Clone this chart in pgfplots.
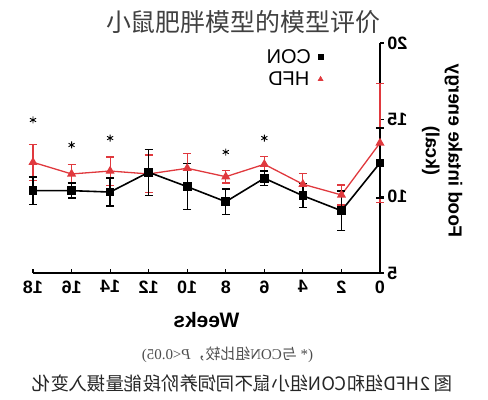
\documentclass[border=0pt]{standalone}
\usepackage{fontspec}
\usepackage{pgfplots}
\pgfplotsset{compat=1.18}
\setmainfont{Liberation Sans}
\newfontfamily\cjk{Noto Sans CJK SC}
\newfontfamily\serif{Liberation Serif}
\definecolor{hfdred}{HTML}{E0393E}
\begin{document}
\begin{tikzpicture}
\begin{axis}[
    scale only axis,
    width=347bp, height=230bp,
    at={(0,0)}, anchor=south west,
    x dir=reverse,
    xmin=0, xmax=18, ymin=5, ymax=20,
    xtick={0,2,...,18}, ytick={5,10,15,20},
    axis x line*=bottom, axis y line*=right,
    axis line style={line width=1.5bp, -},
    xtick align=inside, ytick align=outside,
    major tick length=4bp,
    tick style={line width=1.2bp, black},
    clip=false,
    /pgf/number format/assume math mode=true,
    xticklabel style={xscale=-1, yshift=-4bp, font=\fontsize{18}{18}\selectfont\bfseries},
    yticklabel style={xscale=-1, anchor=east, font=\fontsize{18}{18}\selectfont\bfseries},
    xlabel={Weeks},
    xlabel style={xscale=-1, at={(axis description cs:0.5,-0.204)}, anchor=center,
        font=\fontsize{21}{21}\selectfont\bfseries},
    ylabel={Food intake energy\\(kcal)},
    ylabel style={yscale=-1, at={(axis description cs:1.179,0.53)}, anchor=center,
        align=center, font=\fontsize{19}{23}\selectfont\bfseries},
    legend plot pos=right,
    legend style={at={(axis description cs:0.752,0.891)}, anchor=center,
        draw=none, fill=none, nodes={xscale=-1}, column sep=5bp,
        font=\fontsize{20}{20}\selectfont, row sep=3bp},
]
% HFD
\addplot[forget plot, hfdred, line width=1.3bp, mark=triangle*, mark size=4bp,
    mark options={solid, fill=hfdred},
    error bars/.cd, y dir=both, y explicit,
    error bar style={line width=1.2bp, hfdred},
    error mark options={rotate=90, mark size=4bp, line width=1.2bp, hfdred}]
coordinates {
(0,13.48) +- (0,3.9)
(2,10.09) +- (0,0.65)
(4,10.79) +- (0,0.68)
(6,12.09) +- (0,0.49)
(8,11.28) +- (0,0.41)
(10,11.83) +- (0,0.98)
(12,11.46) +- (0,1.23)
(14,11.65) +- (0,0.92)
(16,11.46) +- (0,0.62)
(18,12.22) +- (0,1.17)
};
% CON
\addplot[forget plot, black, line width=1.6bp, mark=square*, mark size=3.5bp,
    mark options={solid, fill=black},
    error bars/.cd, y dir=both, y explicit,
    error bar style={line width=1.4bp, black},
    error mark options={rotate=90, mark size=4bp, line width=1.4bp, black}]
coordinates {
(0,12.18) +- (0,2.28)
(2,9.06) +- (0,1.3)
(4,10.04) +- (0,0.78)
(6,11.18) +- (0,0.47)
(8,9.65) +- (0,0.82)
(10,10.63) +- (0,1.5)
(12,11.57) +- (0,1.5)
(14,10.28) +- (0,0.92)
(16,10.37) +- (0,0.49)
(18,10.37) +- (0,0.9)
};
% significance
\addplot[forget plot, only marks, mark=asterisk, mark size=3.5bp, black, line width=0.9bp]
coordinates {(18,14.98)(16,13.35)(14,13.8)(8,12.89)(6,13.8)};
\addlegendimage{only marks, mark=square*, black, mark size=2.6bp}
\addlegendentry{CON}
\addlegendimage{only marks, mark=triangle*, hfdred, mark size=3bp}
\addlegendentry{HFD}
\end{axis}
\node[text=black!75] at (210bp,251bp) {\cjk\fontsize{25}{25}\selectfont 小鼠肥胖模型的模型评价};
\node[xscale=-1, text=black!70] at (194.5bp,-82bp) {\fontsize{15}{15}\selectfont
    {\serif(* }{\cjk 与}{\serif CON}{\cjk 组比较，}{\serif\itshape P}{\serif <0.05)}};
\node[xscale=-1, text=black!85] at (209.5bp,-110bp) {\cjk\fontsize{18.5}{18.5}\selectfont 图 2HFD组和CON组小鼠不同饲养阶段能量摄入变化};
\path[use as bounding box] (-33bp,-127bp) rectangle (455bp,273bp);
\end{tikzpicture}
\end{document}
